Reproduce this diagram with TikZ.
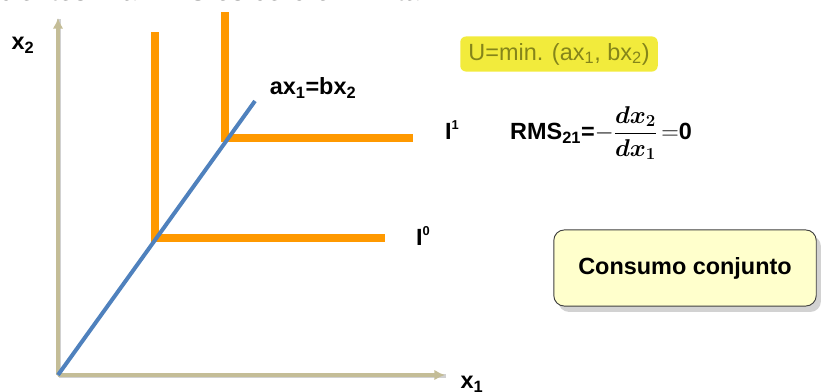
\documentclass[tikz,border=0pt]{standalone}
\usepackage{fontspec}
\usepackage{amsmath}
\setmainfont{Liberation Sans}
\usetikzlibrary{arrows.meta,shadows,positioning}

\definecolor{axistan}{HTML}{C4BD97}
\definecolor{bisblue}{HTML}{4F81BD}
\definecolor{indorange}{HTML}{FF9900}
\definecolor{hiyellow}{HTML}{F2EB3C}
\definecolor{olivetext}{HTML}{85851A}
\definecolor{notefill}{HTML}{FFFFCC}

\newcommand{\smallsup}[1]{\raisebox{0.45em}{\fontsize{11}{11}\selectfont #1}}

\begin{document}
\begin{tikzpicture}[x=0.03cm,y=-0.03cm,
  axis/.style={axistan,line width=3.4pt,-{Latex[length=9pt,width=9pt]},
    preaction={draw=black!18,line width=3.4pt,-,transform canvas={shift={(1.2pt,-1.2pt)}}}},
  indiff/.style={indorange,line width=6.8pt},
  ray/.style={bisblue,line width=3.4pt},
  lbl/.style={font=\fontsize{20}{24}\selectfont\bfseries,inner sep=0pt}
]
\useasboundingbox (0,0) rectangle (822,391);
\clip (0,0) rectangle (822,391);

% cut-off line of text above
\node[anchor=base east,font=\fontsize{24}{28}\selectfont,inner sep=0pt] (toptext) at (428,0)
  {cientes. La RMS es cero e infinita.};

% axes
\coordinate (O) at (58,375);
\coordinate (ytip) at (58,18);
\coordinate (xtip) at (445,375);
\draw[axis] (O) -- (ytip);
\draw[axis] (O) -- (xtip);
\node[lbl] (xtwo) at (23,45) {x\textsubscript{2}};
\node[lbl] (xone) at (472,384) {x\textsubscript{1}};

% indifference curves
\coordinate (I0top) at (155,32);
\coordinate (I0end) at (385,238);
\coordinate (I1top) at (225,12);
\coordinate (I1end) at (413,138);
\draw[indiff] (I0top) |- (I0end);
\draw[indiff] (I1top) |- (I1end);
\node[lbl] (Izero) at (423,236) {I\smallsup{0}};
\node[lbl] (Ione) at (452,130) {I\smallsup{1}};

% ray ax1=bx2
\coordinate (raytip) at (255,101);
\draw[ray] (O) -- (raytip);
\node[lbl] (raylbl) at (313,88) {ax\textsubscript{1}=bx\textsubscript{2}};

% utility function
\node[fill=hiyellow,rounded corners=5pt,text=olivetext,inner xsep=7pt,minimum height=30pt,
  font=\fontsize{20}{24}\selectfont] (util) at (559,54) {U=min. (ax\textsubscript{1}, bx\textsubscript{2})};

% marginal rate of substitution
\node[font=\fontsize{20}{24}\selectfont,inner sep=0pt] (rms) at (601,133)
  {\textbf{RMS\textsubscript{21}=}$-\dfrac{\boldsymbol{dx_2}}{\boldsymbol{dx_1}}$\,$=$\textbf{0}};

% note box
\node[draw=black!75,line width=0.8pt,fill=notefill,rounded corners=9pt,
  minimum width=224pt,minimum height=65pt,
  drop shadow={shadow xshift=4pt,shadow yshift=-5pt,fill=black!35},
  font=\fontsize{20}{24}\selectfont\bfseries] (note) at (685,268) {Consumo conjunto};
\end{tikzpicture}
\end{document}
